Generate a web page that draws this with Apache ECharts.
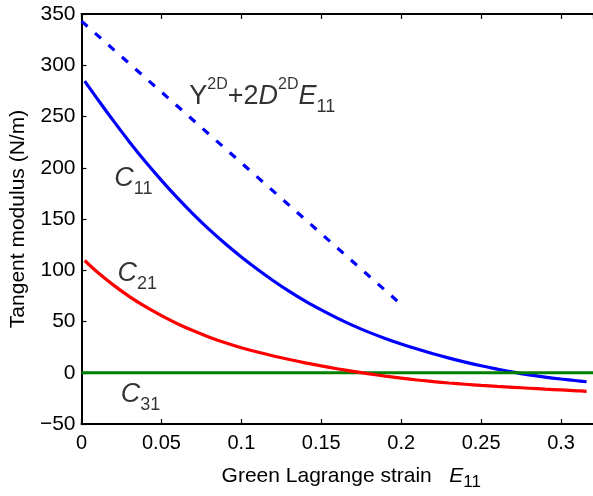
<!DOCTYPE html>
<html>
<head>
<meta charset="utf-8">
<script src="https://cdn.jsdelivr.net/npm/echarts@6/dist/echarts.min.js"></script>
<style>
html,body{margin:0;padding:0;background:#fff;}
#chart{width:593px;height:496px;}
</style>
</head>
<body>
<div id="chart"></div>
<script>
// ---- data ----
const strain = [0.002, 0.01, 0.02, 0.03, 0.04, 0.05, 0.06, 0.07, 0.08, 0.09, 0.10, 0.11, 0.12, 0.13, 0.14, 0.15, 0.16, 0.17, 0.18, 0.19, 0.20, 0.21, 0.22, 0.23, 0.24, 0.25, 0.26, 0.27, 0.28, 0.29, 0.30, 0.31, 0.316];
const c11 = [284.5, 267, 245.7, 225.2, 205.8, 187.7, 170.6, 154.6, 139.7, 125.9, 113.0, 101.0, 89.8, 79.4, 69.9, 61.3, 53.3, 46.0, 39.4, 33.5, 28.1, 23.1, 18.5, 14.3, 10.4, 6.8, 3.6, 0.6, -2.0, -4.2, -6.1, -7.8, -8.8];
const c21 = [109.5, 98, 85.5, 74.3, 64.4, 55.7, 47.8, 40.9, 34.7, 29.2, 24.4, 20.2, 16.4, 12.9, 9.7, 6.7, 3.9, 1.3, -1.1, -3.3, -5.3, -7.1, -8.6, -10.0, -11.2, -12.3, -13.3, -14.2, -15.1, -16.0, -16.8, -17.6, -18.1];
const c31Strain = [0, 0.32];
const c31 = [0, 0];
const linStrain = [0, 0.1975];
const linY = [343, 70];
const xTicks = [0, 0.05, 0.1, 0.15, 0.2, 0.25, 0.3];
const yTicks = [-50, 0, 50, 100, 150, 200, 250, 300, 350];
// annotation anchors (data coords) and texts
const annotations = [
  {x: 0.0674, y: 269.6, text: '{m|Y}{sup|2D}{m|+2}{it|D}{sup|2D}{it|E}{sub|11}'},
  {x: 0.0205, y: 189.5, text: '{it|C}{sub|11}'},
  {x: 0.0225, y: 97, text: '{it|C}{sub|21}'},
  {x: 0.0245, y: -21, text: '{it|C}{sub|31}'}
];

const FONT = 'Liberation Sans, Arial, Helvetica, sans-serif';
const pairs = (xs, ys) => xs.map((x, i) => [x, ys[i]]);
const fmtNum = v => {
  const r = Math.round(v * 1000) / 1000;
  if (xTicks.indexOf(r) < 0) return '';
  return String(r);
};

const chart = echarts.init(document.getElementById('chart'), null, {renderer: 'canvas'});
const annRich = {
  m: {fontFamily: FONT, fontSize: 27, color: '#000', lineHeight: 40},
  it: {fontFamily: FONT, fontSize: 27, fontStyle: 'italic', color: '#000', lineHeight: 40},
  sup: {fontFamily: FONT, fontSize: 16, color: '#000', verticalAlign: 'top', lineHeight: 26},
  sub: {fontFamily: FONT, fontSize: 18, color: '#000', verticalAlign: 'bottom', lineHeight: 10}
};

const option = {
  backgroundColor: '#fff',
  animation: false,
  grid: {left: 77, top: 14, right: -6, bottom: 69, containLabel: false},
  xAxis: [{
    type: 'value', min: 0, max: 0.32, interval: 0.05,
    position: 'bottom',
    axisLine: {show: true, onZero: false, lineStyle: {color: '#000', width: 2}},
    axisTick: {show: true, inside: true, length: 5, lineStyle: {color: '#000', width: 1.2}},
    axisLabel: {show: true, margin: 9, color: '#000', fontFamily: FONT, fontSize: 20, formatter: fmtNum, showMaxLabel: false},
    splitLine: {show: false},
    name: '{m|Green Lagrange strain   }{it|E}{sub|11}',
    nameLocation: 'middle', nameGap: 37,
    nameTextStyle: {
      padding: [0, 0, 0, 28],
      rich: {
        m: {fontFamily: FONT, fontSize: 21, color: '#000', lineHeight: 30},
        it: {fontFamily: FONT, fontSize: 21, fontStyle: 'italic', color: '#000', lineHeight: 30},
        sub: {fontFamily: FONT, fontSize: 17, color: '#000', verticalAlign: 'bottom', lineHeight: 6}
      }
    }
  }, {
    type: 'value', min: 0, max: 0.32, interval: 0.05,
    position: 'top',
    axisLine: {show: true, onZero: false, lineStyle: {color: '#000', width: 2}},
    axisTick: {show: true, inside: true, length: 5, lineStyle: {color: '#000', width: 1.2}},
    axisLabel: {show: false},
    splitLine: {show: false}
  }],
  yAxis: [{
    type: 'value', min: -50, max: 350, interval: 50,
    axisLine: {show: true, onZero: false, lineStyle: {color: '#000', width: 2}},
    axisTick: {show: true, inside: true, length: 5, lineStyle: {color: '#000', width: 1.2}},
    axisLabel: {margin: 6, color: '#000', fontFamily: FONT, fontSize: 21,
      formatter: v => String(v).replace('-', '\u2212')},
    splitLine: {show: false},
    name: 'Tangent modulus (N/m)',
    nameLocation: 'middle', nameGap: 48,
    nameTextStyle: {fontFamily: FONT, fontSize: 21, color: '#000'}
  }],
  series: [
    {
      name: 'linear', type: 'line', data: pairs(linStrain, linY), showSymbol: false,
      lineStyle: {color: '#0000ff', width: 3.2, type: [8, 10]}
    },
    {
      name: 'C11', type: 'line', data: pairs(strain, c11), showSymbol: false, smooth: 0.4,
      lineStyle: {color: '#0000ff', width: 3.2}
    },
    {
      name: 'C31', type: 'line', data: pairs(c31Strain, c31), showSymbol: false,
      lineStyle: {color: '#008000', width: 3.2}
    },
    {
      name: 'C21', type: 'line', data: pairs(strain, c21), showSymbol: false, smooth: 0.4,
      lineStyle: {color: '#ff0000', width: 3.2}
    },
    {
      name: 'labels', type: 'scatter', symbolSize: 0, silent: true,
      data: annotations.map(a => ({value: [a.x, a.y], label: {formatter: a.text}})),
      label: {show: true, position: 'right', distance: 0, rich: annRich}
    }
  ]
};
chart.setOption(option);
</script>
</body>
</html>
